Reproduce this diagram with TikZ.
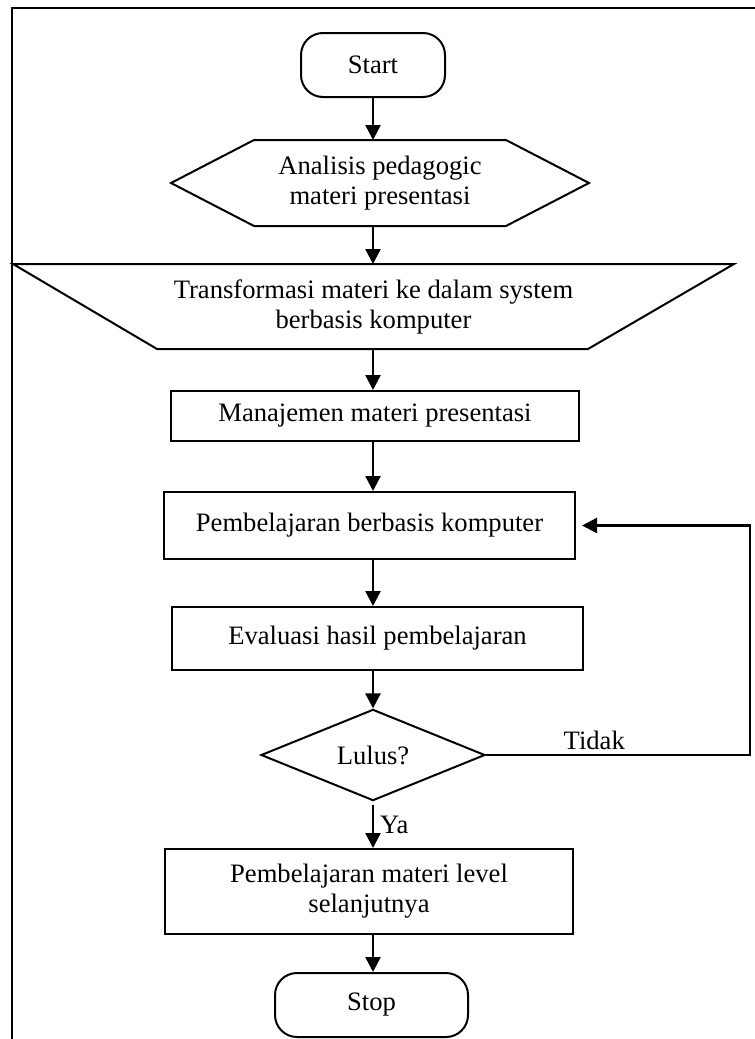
\documentclass[tikz,border=0pt]{standalone}
\usepackage{fontspec}
\setmainfont{Liberation Serif}
\usetikzlibrary{arrows.meta, shapes.geometric}

\begin{document}
\begin{tikzpicture}[x=0.5pt, y=-0.5pt, line width=1pt,
        font=\fontsize{13.3}{15}\selectfont,
        box/.style={draw, rectangle, align=center, inner sep=0pt},
        term/.style={draw, rectangle, rounded corners=11pt, inner sep=0pt},
        plain/.style={rectangle, align=center, inner sep=0pt},
        arr/.style={-{Triangle[length=7.5pt,width=7.5pt]}, line width=1.2pt}]
        \useasboundingbox (0,0) rectangle (755,1039);
        \draw (11.5,1039) -- (11.5,7.5) -- (755,7.5);

        \coordinate (axis) at (373,0);
        \coordinate (loop) at (750,0);

        \node[term, minimum width=72pt, minimum height=32pt] (start) at (373,65) {Start};
        \node[plain, minimum width=208pt, minimum height=42pt] (analisis) at (380,183) {Analisis pedagogic\\materi presentasi};
        \node[plain, minimum width=359.5pt, minimum height=41.5pt] (transformasi) at (373.5,306.5) {Transformasi materi ke dalam system\\berbasis komputer};
        \node[box, minimum width=204pt, minimum height=25pt] (manajemen) at (375,416) {Manajemen materi presentasi};
        \node[box, minimum width=205.5pt, minimum height=33.5pt] (komputer) at (369.5,525.5) {Pembelajaran berbasis komputer};
        \node[box, minimum width=205.5pt, minimum height=31.5pt] (evaluasi) at (377.5,638.5) {Evaluasi hasil pembelajaran};
        \node[draw, diamond, inner sep=0pt, minimum width=112pt, minimum height=42pt] (lulus) at (373,755) {Lulus?};
        \node[box, minimum width=204pt, minimum height=42.5pt] (lanjut) at (369,891.5) {Pembelajaran materi level\\selanjutnya};
        \node[term, minimum width=96.5pt, minimum height=32pt] (stop) at (371.5,1005) {Stop};

        % hexagon and manual operation outlines
        \draw (analisis.west) -- ([xshift=41.5pt]analisis.north west) -- ([xshift=-41.5pt]analisis.north east)
            -- (analisis.east) -- ([xshift=-41.5pt]analisis.south east) -- ([xshift=41.5pt]analisis.south west) -- cycle;
        \draw (transformasi.north west) -- (transformasi.north east)
            -- ([xshift=-73pt]transformasi.south east) -- ([xshift=72pt]transformasi.south west) -- cycle;

        \draw[arr] (axis |- start.south) -- (axis |- analisis.north);
        \draw[arr] (axis |- analisis.south) -- (axis |- transformasi.north);
        \draw[arr] (axis |- transformasi.south) -- (axis |- manajemen.north);
        \draw[arr] (axis |- manajemen.south) -- (axis |- komputer.north);
        \draw[arr] (axis |- komputer.south) -- (axis |- evaluasi.north);
        \draw[arr] (axis |- evaluasi.south) -- (lulus.north);
        \draw[arr, shorten <=1.5pt] (lulus.south) -- node[right, inner sep=3pt] {Ya} (axis |- lanjut.north);
        \draw[arr] (axis |- lanjut.south) -- (axis |- stop.north);
        \draw[arr, shorten >=3pt] (lulus.east) -- node[pos=0.41, above, inner sep=2pt] {Tidak} (lulus.east -| loop) |- (komputer.east);
\end{tikzpicture}
\end{document}
